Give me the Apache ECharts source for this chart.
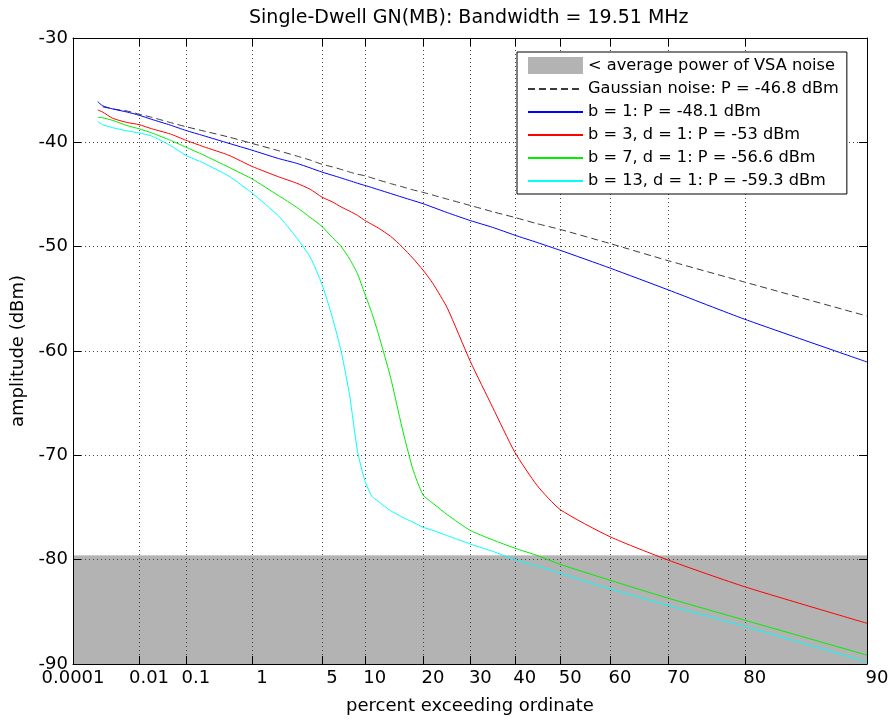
<!DOCTYPE html>
<html>
<head>
<meta charset="utf-8">
<script src="https://cdn.jsdelivr.net/npm/echarts@6/dist/echarts.min.js"></script>
<style>
html, body { margin: 0; padding: 0; background: #fff; }
#chart { width: 895px; height: 723px; }
</style>
</head>
<body>
<div id="chart"></div>
<script>
// percent exceeding ordinate (sample points)
const pct = [0.0007, 0.001, 0.002, 0.005, 0.01, 0.02, 0.05, 0.1, 0.2, 0.5,
    1, 2, 3, 4, 5, 6, 7, 8, 9, 10, 11, 12, 14, 16, 18, 20, 22, 25, 30, 35, 40, 45, 50, 60, 70, 80, 90];

// amplitude (dBm) for each curve at the percents above
const gaussian = [null, -36.6, -36.8, -37.0, -37.3, -37.6, -38.1, -38.5, -38.9, -39.5,
    -40.1, -40.8, -41.3, -41.7, -42.1, -42.35, -42.6, -42.85, -43.05, -43.2, -43.4, -43.6, -43.95, -44.25, -44.55,
    -44.8, -45.06, -45.45, -46.05, -46.65, -47.2, -47.8, -48.35, -49.7, -51.35, -53.4, -56.65];
const b1 = [-36.1, -36.5, -36.8, -37.1, -37.4, -37.8, -38.35, -38.86, -39.35, -40.1,
    -40.75, -41.55, -42.0, -42.45, -42.85, -43.15, -43.42, -43.68, -43.92, -44.13, -44.33, -44.53, -44.9, -45.25, -45.57,
    -45.88, -46.23, -46.74, -47.5, -48.15, -48.9, -49.6, -50.35, -52.05, -54.15, -56.96, -61.05];
const b3 = [-36.9, -37.1, -37.7, -38.1, -38.3, -38.7, -39.2, -39.8, -40.4, -41.25,
    -42.3, -43.3, -43.9, -44.5, -45.25, -45.7, -46.2, -46.6, -47.0, -47.48, -47.85, -48.2, -49.0, -50.0, -51.1,
    -52.25, -53.55, -55.9, -61.0, -65.4, -69.7, -72.9, -75.2, -77.8, -80.05, -82.6, -86.1];
const b7 = [-37.6, -37.65, -37.9, -38.4, -38.7, -39.1, -39.8, -40.46, -41.2, -42.4,
    -43.5, -45.1, -46.2, -47.2, -48.06, -49.1, -50.0, -51.2, -52.6, -54.5, -56.3, -58.3, -62.5, -67.3, -71.3,
    -73.8, -74.6, -75.7, -77.2, -78.1, -78.9, -79.6, -80.45, -81.97, -83.7, -85.8, -89.15];
const b13 = [-38.0, -38.3, -38.6, -38.9, -39.1, -39.4, -40.3, -41.25, -41.97, -43.25,
    -44.85, -47.05, -49.1, -51.0, -53.6, -56.7, -60.1, -64.3, -69.6, -72.4, -73.9, -74.4, -75.3, -75.9, -76.4,
    -76.9, -77.2, -77.7, -78.5, -79.2, -80.0, -80.6, -81.3, -82.8, -84.4, -86.4, -89.8];

const noiseFloor = -79.6;

const tickPct = [0.0001, 0.01, 0.1, 1, 5, 10, 20, 30, 40, 50, 60, 70, 80, 90];
const tickLabels = ['0.0001', '0.01', '0.1', '1', '5', '10', '20', '30', '40', '50', '60', '70', '80', '90'];
const yMin = -90, yMax = -30, yStep = 10;

const names = [
    '< average power of VSA noise',
    'Gaussian noise: P = -46.8 dBm',
    'b = 1: P = -48.1 dBm',
    'b = 3, d = 1: P = -53 dBm',
    'b = 7, d = 1: P = -56.6 dBm',
    'b = 13, d = 1: P = -59.3 dBm'
];

// rayleigh-style probability axis: x = -log10(-ln(p))
const ray = p => -Math.log10(-Math.log(p / 100));
const xMin = ray(tickPct[0]);
const xMax = ray(tickPct[tickPct.length - 1]);
const tickPos = tickPct.map(ray);

const pairs = vals => pct.map((p, i) => vals[i] == null ? null : [ray(p), vals[i]]).filter(d => d);

const font = '"DejaVu Sans", Verdana, sans-serif';

const tickLabel = v => {
    const i = tickPos.findIndex(t => Math.abs(t - v) < 1e-6);
    if (i < 0) return '';
    return i === 0 ? '{a|' + tickLabels[i] + '}' : '{b|' + tickLabels[i] + '}';
};

const tickFont = {fontFamily: font, fontSize: 18, color: '#000'};
const nameFont = {fontFamily: font, fontSize: 18, color: '#000'};

const chart = echarts.init(document.getElementById('chart'), null, {renderer: 'canvas'});

const lineSeries = (name, vals, color, type) => ({
    name: name,
    type: 'line',
    data: pairs(vals),
    symbol: 'none',
    showSymbol: false,
    smooth: 0.2,
    z: 3,
    itemStyle: {color: color},
    lineStyle: {color: color, width: 1, type: type || 'solid'}
});

chart.setOption({
    animation: false,
    backgroundColor: '#fff',
    title: {
        text: 'Single-Dwell GN(MB): Bandwidth = 19.51 MHz',
        left: 244,
        top: 4,
        textStyle: {fontFamily: font, fontSize: 19, fontWeight: 'normal', color: '#000'}
    },
    grid: {left: 73, right: 28, top: 38, bottom: 59},
    legend: {
        orient: 'vertical',
        left: 517,
        top: 52,
        padding: [5, 8, 5, 10],
        itemWidth: 55,
        itemHeight: 17,
        itemGap: 7,
        borderColor: '#000',
        borderWidth: 1,
        backgroundColor: '#fff',
        itemStyle: {opacity: 0},
        textStyle: {fontFamily: font, fontSize: 16.2, color: '#000'},
        data: [
            {name: names[0], icon: 'rect', itemStyle: {opacity: 1}},
            names[1], names[2], names[3], names[4], names[5]
        ]
    },
    xAxis: [{
        type: 'value',
        min: xMin,
        max: xMax,
        z: 1,
        name: 'percent exceeding ordinate',
        nameLocation: 'middle',
        nameGap: 33,
        nameTextStyle: nameFont,
        axisLine: {onZero: false, lineStyle: {color: '#000', width: 1}},
        axisTick: {inside: true, length: 8, customValues: tickPos, lineStyle: {color: '#000'}},
        axisLabel: {
            customValues: tickPos,
            formatter: tickLabel,
            margin: 5,
            rich: {
                a: tickFont,
                b: Object.assign({padding: [0, 0, 0, 20]}, tickFont)
            }
        },
        splitLine: {show: true, lineStyle: {color: '#444', width: 1, type: [1, 3]}}
    }, {
        type: 'value',
        position: 'top',
        min: xMin,
        max: xMax,
        z: 1,
        axisLine: {onZero: false, lineStyle: {color: '#000', width: 1}},
        axisTick: {inside: true, length: 8, customValues: tickPos, lineStyle: {color: '#000'}},
        axisLabel: {show: false},
        splitLine: {show: false}
    }],
    yAxis: [{
        type: 'value',
        min: yMin,
        max: yMax,
        interval: yStep,
        z: 1,
        name: 'amplitude (dBm)',
        nameLocation: 'middle',
        nameGap: 46,
        nameTextStyle: nameFont,
        axisLine: {show: true, onZero: false, lineStyle: {color: '#000', width: 1}},
        axisTick: {show: true, inside: true, length: 8, lineStyle: {color: '#000'}},
        axisLabel: Object.assign({margin: 5}, tickFont),
        splitLine: {show: true, lineStyle: {color: '#444', width: 1, type: [1, 3]}}
    }, {
        type: 'value',
        position: 'right',
        min: yMin,
        max: yMax,
        interval: yStep,
        z: 1,
        axisLine: {show: true, onZero: false, lineStyle: {color: '#000', width: 1}},
        axisTick: {show: true, inside: true, length: 8, lineStyle: {color: '#000'}},
        axisLabel: {show: false},
        splitLine: {show: false}
    }],
    series: [
        {
            name: names[0],
            type: 'line',
            data: [[xMin, noiseFloor], [xMax, noiseFloor]],
            symbol: 'none',
            showSymbol: false,
            z: 0,
            itemStyle: {color: '#b3b3b3'},
            lineStyle: {color: '#cdcdcd', width: 1},
            areaStyle: {color: '#b3b3b3', opacity: 1, origin: 'start'}
        },
        lineSeries(names[1], gaussian, '#3a3a3a', [7, 4]),
        lineSeries(names[2], b1, '#0000ff'),
        lineSeries(names[3], b3, '#ff0000'),
        lineSeries(names[4], b7, '#00ee00'),
        lineSeries(names[5], b13, '#00ffff')
    ]
});
</script>
</body>
</html>
